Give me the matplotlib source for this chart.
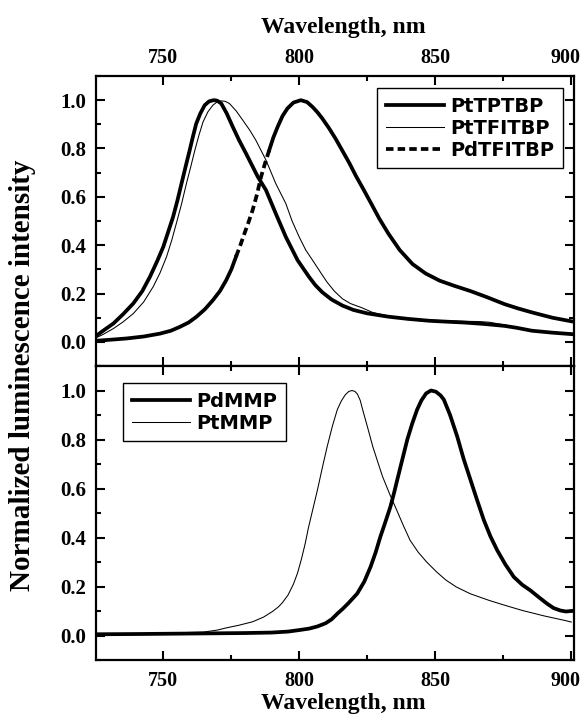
import matplotlib
matplotlib.use("Agg")
import matplotlib.pyplot as plt
import matplotlib.transforms as mtransforms
import numpy as np
from matplotlib.ticker import MultipleLocator

# ---------------- data ----------------
pttptbp_wl = [725, 728, 731.9, 735.5, 739.2, 742.5, 745.3, 748, 750.2, 752, 753.8, 755.4,
              756.9, 758.4, 759.9, 761.1, 762.3, 763.8, 765.4, 767, 768.7, 770, 771.5,
              773.5, 775.7, 778, 780.6, 782.8, 784.9, 787.9, 791.5, 795.2, 799.5, 803.7,
              806, 808.6, 812, 816, 820, 825, 832.9, 840, 848, 855, 860.5, 868, 875.5,
              880, 885.5, 893, 900]
pttptbp_int = [0.02, 0.045, 0.076, 0.115, 0.159, 0.21, 0.269, 0.335, 0.393, 0.455, 0.517,
               0.585, 0.655, 0.725, 0.793, 0.85, 0.903, 0.945, 0.979, 0.995, 1.0, 0.998,
               0.986, 0.945, 0.89, 0.835, 0.779, 0.73, 0.683, 0.628, 0.531, 0.434, 0.338,
               0.269, 0.235, 0.205, 0.175, 0.15, 0.132, 0.118, 0.104, 0.095, 0.087, 0.083,
               0.08, 0.074, 0.066, 0.058, 0.046, 0.038, 0.032]

pttfitbp_wl = [725, 728, 731.9, 735.5, 739.2, 743, 746.5, 749, 751.4, 753.3, 755, 756.9,
               758.7, 760.3, 761.8, 763.3, 764.8, 766.6, 768.4, 770, 771.5, 773, 774.5,
               777, 779.4, 782, 784.2, 787.9, 791.5, 795.2, 797.5, 800.1, 802.5, 805,
               808.6, 810.4, 813, 816, 819, 822.9, 827, 832.9, 840, 848, 855, 860.5, 866,
               870, 875.5, 880, 885.5, 893, 900]
pttfitbp_int = [0.014, 0.03, 0.055, 0.083, 0.117, 0.165, 0.228, 0.285, 0.352, 0.42, 0.49,
                0.57, 0.655, 0.725, 0.793, 0.855, 0.91, 0.952, 0.979, 0.993, 0.997, 0.995,
                0.986, 0.955, 0.917, 0.875, 0.834, 0.752, 0.655, 0.572, 0.5, 0.434, 0.38,
                0.338, 0.276, 0.246, 0.21, 0.178, 0.158, 0.142, 0.122, 0.106, 0.096, 0.09,
                0.087, 0.085, 0.084, 0.081, 0.07, 0.06, 0.048, 0.04, 0.035]

pdtfitbp_wl = [725, 730, 736.8, 743, 749, 753, 756.3, 759.5, 762.3, 765.5, 768.4, 771,
               773.3, 775.2, 776.9, 778.5, 780, 781.5, 783, 784.6, 786.1, 787.6, 789.1,
               790.6, 792.2, 794, 795.8, 798, 800.7, 803, 805, 806.8, 808.6, 811, 813.5,
               816, 818.5, 821, 823.5, 826.6, 829.5, 832.9, 837, 841.7, 846.5, 851.7, 857,
               863, 869, 875.5, 880.5, 885.5, 893, 900]
pdtfitbp_int = [0.004, 0.008, 0.014, 0.022, 0.034, 0.046, 0.062, 0.08, 0.103, 0.135, 0.172,
                0.21, 0.255, 0.3, 0.352, 0.4, 0.448, 0.495, 0.545, 0.61, 0.683, 0.74, 0.793,
                0.845, 0.89, 0.935, 0.966, 0.99, 1.0, 0.992, 0.972, 0.95, 0.924, 0.885,
                0.84, 0.79, 0.74, 0.685, 0.635, 0.571, 0.51, 0.447, 0.38, 0.322, 0.283,
                0.253, 0.232, 0.21, 0.185, 0.156, 0.138, 0.122, 0.1, 0.085]

pdmmp_wl = [725, 740, 760, 780, 790, 796, 800, 803.7, 806.8, 809.8, 812, 814.1, 816, 818,
            821.4, 824, 826.3, 828.2, 829.9, 831.8, 833.6, 835, 836.1, 838, 839.8, 841.6,
            843.4, 845, 846.7, 848.5, 850.3, 852, 853.2, 855.5, 858.1, 860.5, 863, 865.5,
            867.9, 870.3, 872.8, 875.8, 878.9, 882, 885, 888, 891.1, 893.5, 896, 898, 900]
pdmmp_int = [0.005, 0.006, 0.008, 0.01, 0.012, 0.016, 0.022, 0.028, 0.037, 0.05, 0.066,
             0.089, 0.108, 0.13, 0.171, 0.22, 0.28, 0.34, 0.403, 0.465, 0.526, 0.585, 0.635,
             0.72, 0.8, 0.865, 0.922, 0.96, 0.988, 1.0, 0.995, 0.98, 0.963, 0.9, 0.813,
             0.72, 0.635, 0.55, 0.471, 0.405, 0.348, 0.29, 0.239, 0.207, 0.184, 0.157,
             0.13, 0.112, 0.102, 0.098, 0.1]

ptmmp_wl = [725, 745, 765, 770, 773.3, 778, 783, 787, 790.3, 792.5, 794, 796, 798, 799.5,
            801, 802.3, 803.5, 805, 806.8, 808.6, 810.4, 812.3, 814.1, 815.6, 817, 818.3,
            819.5, 820.6, 821.5, 822.5, 823.4, 825.2, 827.1, 828.9, 830.7, 833.3, 835.9,
            838.3, 840.8, 843.8, 846.9, 850.5, 854, 857.8, 863, 869.9, 876, 882.1, 890,
            897.8, 900]
ptmmp_int = [0.004, 0.008, 0.014, 0.022, 0.031, 0.042, 0.056, 0.075, 0.098, 0.117, 0.135,
             0.165, 0.21, 0.255, 0.315, 0.375, 0.44, 0.51, 0.594, 0.685, 0.772, 0.855,
             0.922, 0.958, 0.982, 0.996, 1.0, 0.996, 0.985, 0.96, 0.922, 0.85, 0.772, 0.71,
             0.649, 0.578, 0.512, 0.45, 0.389, 0.34, 0.30, 0.26, 0.226, 0.198, 0.17, 0.143,
             0.122, 0.102, 0.08, 0.061, 0.055]

x_ticks = [750, 800, 850, 900]
y_ticks = [0.0, 0.2, 0.4, 0.6, 0.8, 1.0]

# ---------------- figure ----------------
serif = ["Liberation Serif", "DejaVu Serif"]
sans = ["DejaVu Sans"]
plt.rcParams["font.family"] = serif
plt.rcParams["font.weight"] = "bold"

W, H = 580, 717
fig = plt.figure(figsize=(W / 100, H / 100), dpi=100)
L, R = 96, 574
ax1 = fig.add_axes([L / W, 1 - 366 / H, (R - L) / W, (366 - 76) / H])
ax2 = fig.add_axes([L / W, 1 - 660 / H, (R - L) / W, (660 - 366) / H])

THICK = 2.7
THIN = 0.75

# top panel
ax1.plot(pttptbp_wl, pttptbp_int, color="black", lw=THICK, label="PtTPTBP")
ax1.plot(pttfitbp_wl, pttfitbp_int, color="black", lw=THIN, label="PtTFITBP")
wl = np.array(pdtfitbp_wl)
iv = np.array(pdtfitbp_int)
m_dash = (wl >= 776.9) & (wl <= 789.1)
m_lo = wl <= 776.9
m_hi = wl >= 789.1
ax1.plot(wl[m_lo], iv[m_lo], color="black", lw=THICK)
ax1.plot(wl[m_hi], iv[m_hi], color="black", lw=THICK)
ax1.plot(wl[m_dash], iv[m_dash], color="black", lw=THICK, ls=(0, (2.0, 1.1)),
         label="PdTFITBP")

# bottom panel
ax2.plot(pdmmp_wl, pdmmp_int, color="black", lw=THICK, label="PdMMP")
ax2.plot(ptmmp_wl, ptmmp_int, color="black", lw=THIN, label="PtMMP")

shift = mtransforms.ScaledTranslation(-6 / 100, 0, fig.dpi_scale_trans)
for ax in (ax1, ax2):
    ax.set_xlim(725.5, 901)
    ax.set_ylim(-0.1, 1.1)
    ax.set_xticks(x_ticks)
    ax.set_xticklabels([str(v) for v in x_ticks])
    ax.set_yticks(y_ticks)
    ax.set_yticklabels([f"{v:.1f}" for v in y_ticks])
    ax.xaxis.set_minor_locator(MultipleLocator(25))
    ax.yaxis.set_minor_locator(MultipleLocator(0.1))
    ax.tick_params(which="both", direction="in", top=True, right=True, width=1.5)
    ax.tick_params(which="major", length=6.5)
    ax.tick_params(which="minor", length=3.5)
    ax.tick_params(axis="x", labelsize=14.5)
    ax.tick_params(axis="y", labelsize=15, pad=7)
    for s in ax.spines.values():
        s.set_linewidth(1.6)

ax1.tick_params(axis="x", labelbottom=False, labeltop=True, pad=6)
ax2.tick_params(axis="x", pad=8)

# nudge the "900" labels so they stay inside the canvas (as in the reference)
for ax in (ax1, ax2):
    for t in ax.xaxis.get_major_ticks():
        if abs(t.get_loc() - 900) < 1e-6:
            t.label1.set_transform(t.label1.get_transform() + shift)
            t.label2.set_transform(t.label2.get_transform() + shift)

fig.text(0.592, 1 - 28 / H, "Wavelength, nm", ha="center", va="center",
         fontsize=17, fontweight="bold")
fig.text(0.592, 1 - 703 / H, "Wavelength, nm", ha="center", va="center",
         fontsize=17, fontweight="bold")
fig.text(23 / W, 1 - 375 / H, "Normalized luminescence intensity", rotation=90,
         ha="center", va="center", fontsize=21, fontweight="bold")

leg_kw = dict(frameon=True, fancybox=False, framealpha=1, edgecolor="black",
              borderaxespad=0, handlelength=3.0, handletextpad=0.3,
              labelspacing=0.15, borderpad=0.45,
              prop={"family": sans, "weight": "bold", "size": 14})
l1 = ax1.legend(loc="upper right",
                bbox_to_anchor=((563 - L) / (R - L), (366 - 88) / 290), **leg_kw)
l2 = ax2.legend(loc="upper left",
                bbox_to_anchor=((123 - L) / (R - L), 1 - (383 - 366) / 294), **leg_kw)
for l in (l1, l2):
    l.get_frame().set_linewidth(1.0)

fig.savefig("out.png", dpi=100)
